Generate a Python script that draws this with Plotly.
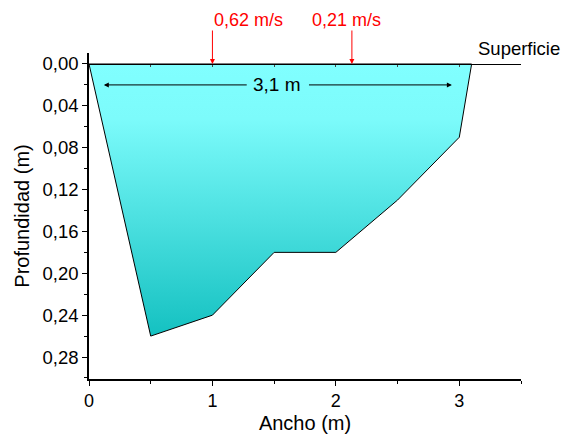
import plotly.graph_objects as go

# Cross-section of the channel: width (m) vs depth (m)
ancho = [0, 0.5, 1.0, 1.5, 2.0, 2.5, 3.0, 3.1, 0]
profundidad = [0, 0.26, 0.24, 0.18, 0.18, 0.13, 0.07, 0, 0]

# Surface velocities measured at two stations
vel_x = [1.0, 2.13]
vel_labels = ["0,62 m/s", "0,21 m/s"]

ancho_total = "3,1 m"

Y_MIN, Y_MAX = -0.0105, 0.301
X_MAX = 3.5
FONT = "Liberation Sans, Arial, sans-serif"

fig = go.Figure()

fig.add_trace(go.Scatter(
    x=ancho, y=profundidad, mode="lines",
    line=dict(color="black", width=1),
    fill="toself",
    fillgradient=dict(
        type="vertical",
        colorscale=[[0, "#14c1c1"], [0.8, "#7cfbfb"], [1, "#80ffff"]],
    ),
    hoverinfo="skip", showlegend=False,
))

# dummy trace to carry the surface axis
fig.add_trace(go.Scatter(x=[0, X_MAX], y=[0, 0], xaxis="x2", mode="lines",
                         line=dict(width=0), showlegend=False, hoverinfo="skip"))

surface_pos = (Y_MAX - 0) / (Y_MAX - Y_MIN)

fig.update_layout(
    width=568, height=437,
    margin=dict(l=89, r=47, t=53, b=58, autoexpand=False),
    plot_bgcolor="white", paper_bgcolor="white",
    separators=",.",
    font=dict(family=FONT, size=18, color="black"),
    showlegend=False,
    xaxis=dict(
        range=[0, X_MAX], tickvals=[0, 1, 2, 3], automargin=False,
        showline=True, linecolor="black", linewidth=1.5,
        ticks="outside", ticklen=5, tickwidth=1, tickcolor="black",
        minor=dict(dtick=0.5, ticks="outside", ticklen=3, tickcolor="black"),
        showgrid=False, zeroline=False,
        title=dict(text="Ancho (m)", font=dict(size=20), standoff=6),
        tickfont=dict(size=18),
    ),
    xaxis2=dict(
        range=[0, X_MAX], overlaying="x", anchor="free", position=surface_pos,
        side="top", showline=True, linecolor="black", linewidth=1,
        ticks="inside", ticklen=2, tickcolor="#444", dtick=0.5, automargin=False,
        showticklabels=False, showgrid=False, zeroline=False,
    ),
    yaxis=dict(
        range=[Y_MAX, Y_MIN], tickvals=[0, 0.04, 0.08, 0.12, 0.16, 0.20, 0.24, 0.28],
        tickformat=".2f", automargin=False, ticklabelstandoff=0,
        showline=True, linecolor="black", linewidth=1.5,
        ticks="outside", ticklen=5, tickwidth=1, tickcolor="black",
        minor=dict(dtick=0.02, ticks="outside", ticklen=3, tickcolor="black"),
        showgrid=False, zeroline=False,
        title=dict(text="Profundidad (m)", font=dict(size=20), standoff=8),
        tickfont=dict(size=18.5),
    ),
)

# Surface label
fig.add_annotation(x=1.095, xref="paper", y=1.015, yref="paper",
                   xanchor="right", yanchor="middle",
                   text="Superficie", showarrow=False, font=dict(size=18.5))

# Velocity arrows with their labels
for vx, lab, dx in zip(vel_x, vel_labels, [0, -0.045]):
    fig.add_annotation(x=vx, y=0, xref="x", yref="y", ax=0, ay=-35,
                       text="", showarrow=True, arrowhead=2, arrowsize=1,
                       arrowwidth=1, arrowcolor="red")
    fig.add_annotation(x=(vx + dx) / X_MAX, xref="paper", y=1.101, yref="paper",
                       yanchor="middle", text=lab, showarrow=False,
                       font=dict(color="red", size=18))

# Total width dimension line
fig.add_annotation(x=1.52, y=0.0195, xref="x", yref="y", text=ancho_total,
                   showarrow=False, font=dict(size=19))
fig.add_annotation(x=0.12, y=0.020, ax=1.29, ay=0.020, xref="x", yref="y",
                   axref="x", ayref="y", text="", showarrow=True,
                   arrowhead=2, arrowsize=1, arrowwidth=1, arrowcolor="black")
fig.add_annotation(x=2.94, y=0.020, ax=1.77, ay=0.020, xref="x", yref="y",
                   axref="x", ayref="y", text="", showarrow=True,
                   arrowhead=2, arrowsize=1, arrowwidth=1, arrowcolor="black")

fig.write_html("out.html")
